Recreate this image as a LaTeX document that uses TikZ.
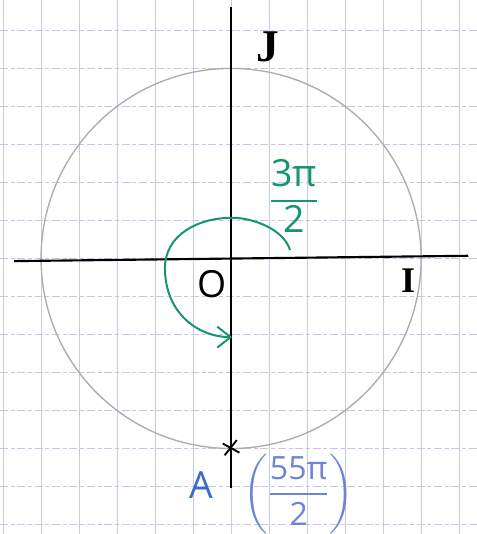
\documentclass[tikz,border=0pt]{standalone}
\usepackage{amsmath}
\usepackage{fontspec}
\setmainfont{Open Sans}
\newfontfamily\serifhand{Liberation Serif}
\usetikzlibrary{arrows.meta,positioning,calc}
\definecolor{gridblue}{RGB}{198,203,234}
\definecolor{gridviolet}{RGB}{204,194,228}
\definecolor{turngreen}{RGB}{22,150,112}
\definecolor{penblue}{RGB}{58,108,200}
\definecolor{paleblue}{RGB}{112,132,212}

\begin{document}
\begin{tikzpicture}
\tikzstyle{gridv} = [gridblue, line width=0.5pt]
\tikzstyle{gridh} = [gridviolet, line width=0.5pt, dash pattern=on 6pt off 2pt on 3pt off 2pt]
\tikzstyle{axis} = [black, line width=1.6pt]
\tikzstyle{unitcircle} = [gray!65, line width=1pt]
\tikzstyle{turn} = [turngreen, line width=1.5pt, -{Straight Barb[length=3.5mm,width=5.5mm]}]
\tikzstyle{letter} = [font=\fontsize{28}{30}\selectfont, inner sep=0pt]

\useasboundingbox (-6.08,-7.25) rectangle (6.47,6.80);
\fill[white] (-6.08,-7.25) rectangle (6.47,6.80);
\foreach \x in {-6,...,6}
  \draw[gridv] (\x,-7.25) -- (\x,6.80);
\foreach \y in {-7,...,6}
  \draw[gridh] (-6.08,\y) -- (6.47,\y);

\coordinate (O) at (0,0);
\coordinate (I) at (5,0);
\coordinate (J) at (0,5);
\coordinate (A) at (0,-5);

\draw[unitcircle] (O) circle (5);
\draw[axis] (-5.71,-0.07) -- (6.24,0.07);
\draw[axis] (0,6.62) -- (0,-6.04);

\draw[turn] (1.55,0.22) .. controls (1.4,0.75) and (0.6,1.07) .. (0.03,1.07)
  .. controls (-0.9,1.07) and (-1.74,0.6) .. (-1.74,-0.25)
  .. controls (-1.74,-1.45) and (-0.85,-2.07) .. (0.03,-2.07);

\draw[black, line width=1.4pt] ($(A)+(-0.22,0.13)$) -- ($(A)+(0.22,-0.11)$);
\draw[black, line width=1.4pt] ($(A)+(-0.17,-0.18)$) -- ($(A)+(0.15,0.22)$);

\node (labelJ) [letter, font=\fontsize{34}{36}\serifhand\bfseries] at (0.97,5.57) {J};
\node (labelI) [letter, font=\fontsize{27}{29}\serifhand\bfseries] at (4.66,-0.59) {I};
\node (labelO) [letter] at (-0.5,-0.67) {O};
\node (labelA) [letter, penblue] at (-0.79,-5.96) {A};
\node (angle) [turngreen, font=\fontsize{28}{30}\selectfont, inner sep=0pt] at (1.66,1.64) {$\dfrac{\text{3π}}{\text{2}}$};
\node (angleA) [paleblue, font=\fontsize{24}{26}\selectfont, inner sep=0pt] at (1.78,-6.2) {$\left(\dfrac{\text{55π}}{\text{2}}\right)$};

\end{tikzpicture}
\end{document}
